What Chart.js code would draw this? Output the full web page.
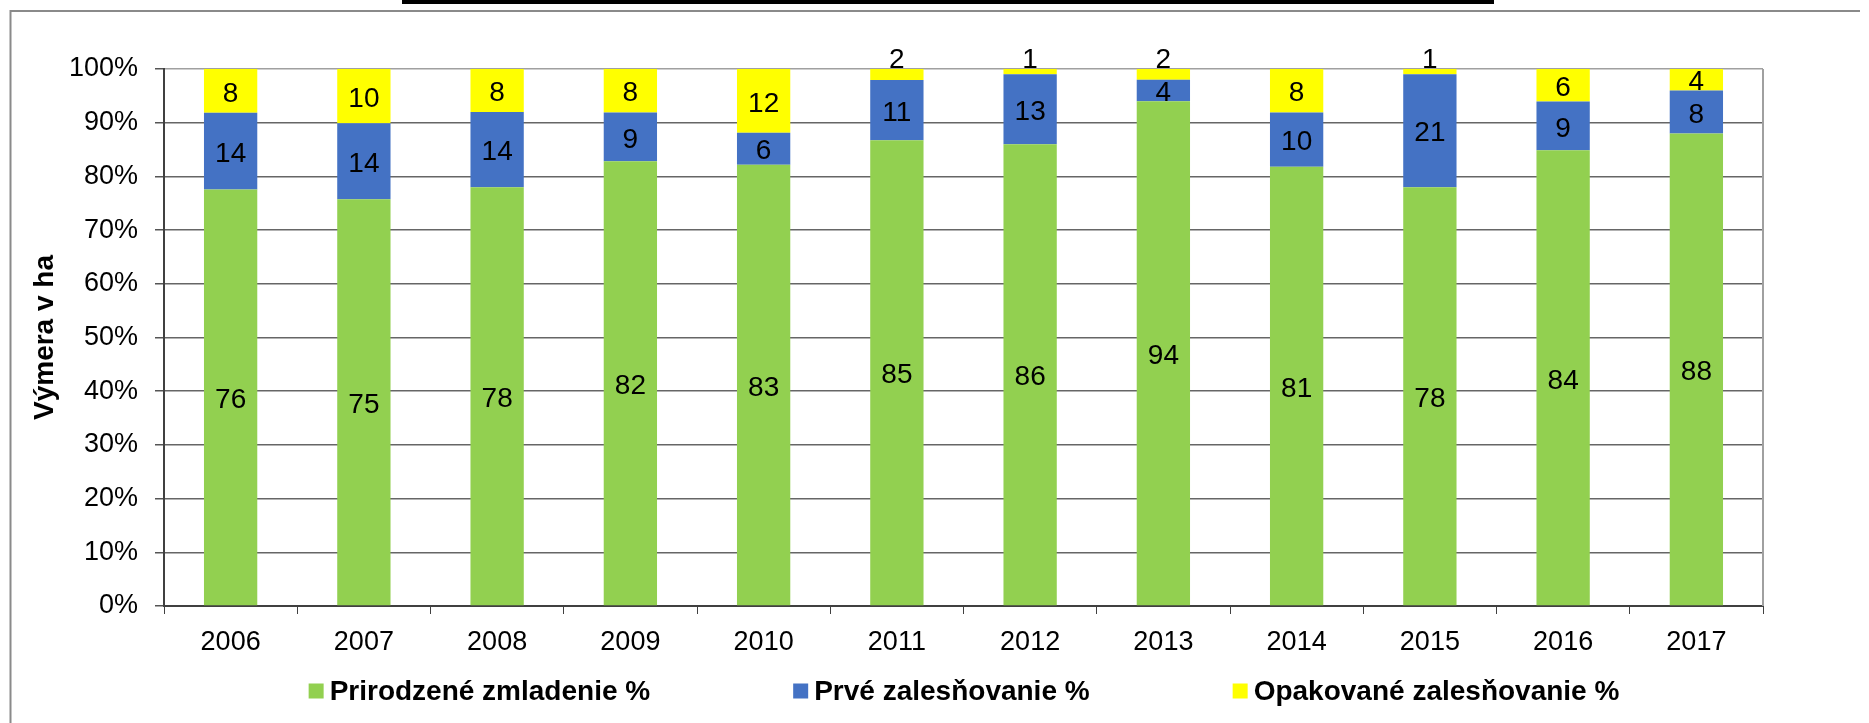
<!DOCTYPE html>
<html>
<head>
<meta charset="utf-8">
<script src="https://cdn.jsdelivr.net/npm/chart.js@4.4.1/dist/chart.umd.min.js"></script>
<style>
  html, body { margin: 0; padding: 0; background: #ffffff; }
  canvas { display: block; }
</style>
</head>
<body>
<canvas id="c" width="1869" height="723"></canvas>
<script>
// ---- data (rounded shares in %, as labelled on the chart) ----
const years = ['2006','2007','2008','2009','2010','2011','2012','2013','2014','2015','2016','2017'];
const prirodzene = [76, 75, 78, 82, 83, 85, 86, 94, 81, 78, 84, 88];
const prve       = [14, 14, 14,  9,  6, 11, 13,  4, 10, 21,  9,  8];
const opakovane  = [ 8, 10,  8,  8, 12,  2,  1,  2,  8,  1,  6,  4];
const seriesNames = ['Prirodzené zmladenie %', 'Prvé zalesňovanie %', 'Opakované zalesňovanie %'];
const yTickValues = [0, 10, 20, 30, 40, 50, 60, 70, 80, 90, 100];
const yTitle = 'Výmera v ha';

const FONT = "'Liberation Sans', Arial, sans-serif";
const colors = ['#92D050', '#4472C4', '#FFFF00'];
const raw = [prirodzene, prve, opakovane];

// 100% stacked: each column normalised to its total
const totals = years.map((_, i) => prirodzene[i] + prve[i] + opakovane[i]);
const share = arr => arr.map((v, i) => v / totals[i] * 100);

const frameAndLabels = {
  id: 'frameAndLabels',
  beforeDraw(chart) {
    const ctx = chart.ctx;
    ctx.save();
    // black title rule at top
    ctx.fillStyle = '#000000';
    ctx.fillRect(402, 0, 1092, 4);
    // chart frame
    ctx.strokeStyle = '#8a8a8a';
    ctx.lineWidth = 2;
    ctx.beginPath();
    ctx.moveTo(1860, 11); ctx.lineTo(10.5, 11); ctx.lineTo(10.5, 723);
    ctx.stroke();
    ctx.restore();
  },
  afterDatasetsDraw(chart) {
    const ctx = chart.ctx;
    const ca = chart.chartArea;
    ctx.save();
    // plot area right border
    ctx.strokeStyle = '#a0a0a0';
    ctx.lineWidth = 2;
    ctx.beginPath();
    ctx.moveTo(ca.right, ca.top); ctx.lineTo(ca.right, ca.bottom);
    ctx.stroke();
    // value labels
    ctx.fillStyle = '#000000';
    ctx.font = '28px ' + FONT;
    ctx.textAlign = 'center';
    chart.data.datasets.forEach((ds, di) => {
      const meta = chart.getDatasetMeta(di);
      meta.data.forEach((el, i) => {
        const v = raw[di][i];
        const top = Math.min(el.y, el.base), bot = Math.max(el.y, el.base);
        const h = bot - top;
        if (h < 15) {
          ctx.textBaseline = 'alphabetic';
          ctx.fillText(String(v), el.x, top - 1);
        } else {
          ctx.textBaseline = 'middle';
          ctx.fillText(String(v), el.x, (top + bot) / 2 + 3);
        }
      });
    });
    ctx.restore();
  },
  afterDraw(chart) {
    // legend
    const ctx = chart.ctx;
    ctx.save();
    ctx.font = 'bold 28px ' + FONT;
    ctx.textBaseline = 'middle';
    ctx.textAlign = 'left';
    const box = 15, gapBoxText = 6, gapItems = 143;
    const items = chart.data.datasets.map(ds => ({label: ds.label, color: ds.backgroundColor, w: ctx.measureText(ds.label).width}));
    let total = 0;
    items.forEach((it, k) => { total += box + gapBoxText + it.w + (k < items.length - 1 ? gapItems : 0); });
    const cx = 964, cy = 691;
    let x = cx - total / 2;
    items.forEach(it => {
      ctx.fillStyle = it.color;
      ctx.fillRect(x, cy - box / 2, box, box);
      ctx.fillStyle = '#000000';
      ctx.fillText(it.label, x + box + gapBoxText, cy + 1);
      x += box + gapBoxText + it.w + gapItems;
    });
    ctx.restore();
  }
};

new Chart(document.getElementById('c'), {
  type: 'bar',
  data: {
    labels: years,
    datasets: raw.map((arr, k) => ({
      label: seriesNames[k],
      data: share(arr),
      backgroundColor: colors[k],
      borderWidth: 0,
      barPercentage: 0.4,
      categoryPercentage: 1.0
    }))
  },
  options: {
    responsive: false,
    animation: false,
    devicePixelRatio: 1,
    layout: { padding: { left: 0, right: 106, top: 69, bottom: 67 } },
    plugins: {
      legend: { display: false },
      tooltip: { enabled: false },
      title: { display: false }
    },
    scales: {
      x: {
        stacked: true,
        offset: true,
        grid: {
          offset: true,
          drawOnChartArea: false,
          drawTicks: true,
          tickLength: 8,
          color: '#404040',
          lineWidth: 1
        },
        border: { display: true, color: '#404040', width: 2 },
        ticks: { color: '#000000', font: { family: FONT, size: 27 }, padding: 12, maxRotation: 0 },
        afterFit(scale) { scale.height = 50; }
      },
      y: {
        stacked: true,
        min: 0,
        max: 100,
        afterBuildTicks(scale) { scale.ticks = yTickValues.map(v => ({ value: v })); },
        grid: {
          color: ctx => (ctx.tick && ctx.tick.value === 100) ? '#a0a0a0' : '#666666',
          lineWidth: 1.5,
          tickLength: 9,
          tickColor: '#555555'
        },
        border: { display: true, color: '#404040', width: 2 },
        ticks: {
          color: '#000000',
          font: { family: FONT, size: 27 },
          padding: 17,
          callback: v => v + '%'
        },
        title: {
          display: true,
          text: yTitle,
          color: '#000000',
          font: { family: FONT, size: 28, weight: 'bold' },
          padding: { top: 28, bottom: 0 }
        },
        afterFit(scale) { scale.width = 164; }
      }
    }
  },
  plugins: [frameAndLabels]
});
</script>
</body>
</html>
